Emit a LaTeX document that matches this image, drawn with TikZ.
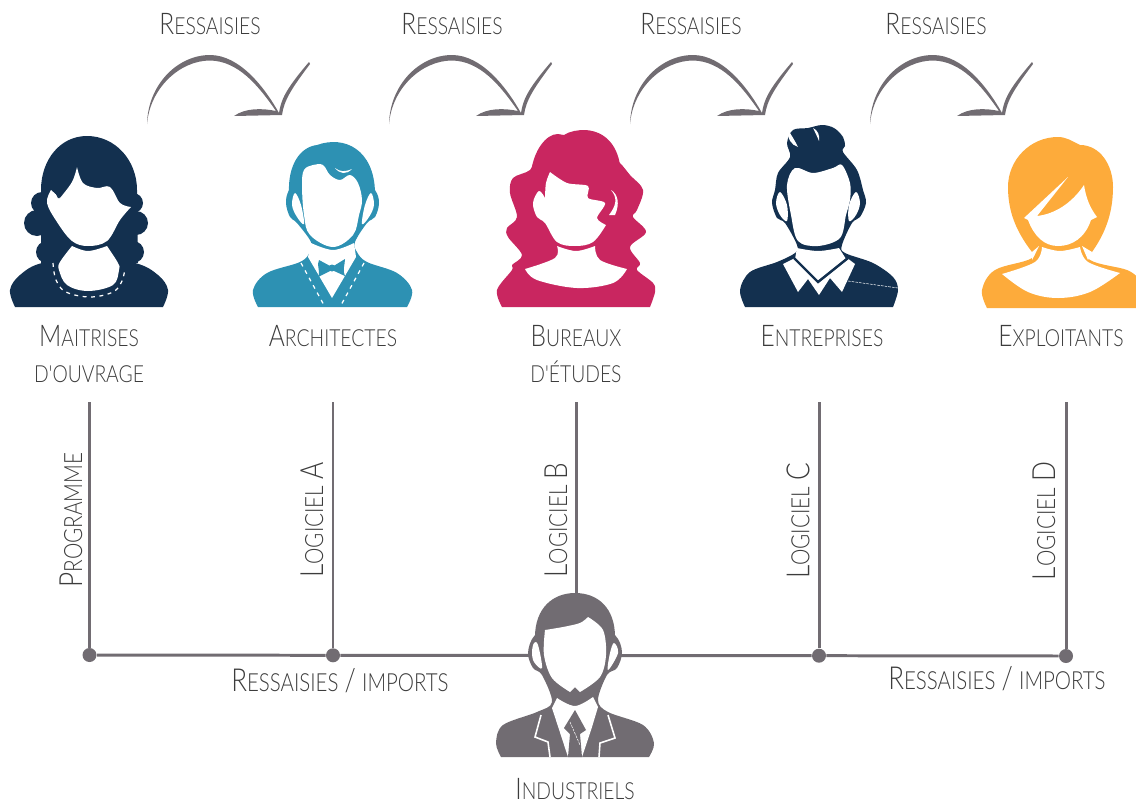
\documentclass[tikz,border=0pt]{standalone}
\usepackage{fontspec}
\newfontfamily\thinfont[FakeStretch=0.82]{Lato Light}
\newcommand{\capsz}{\fontsize{17}{20}\thinfont}
\newcommand{\lowsz}{\fontsize{13.4}{20}\thinfont}
\newcommand{\scw}[2]{{\capsz #1}{\lowsz\MakeUppercase{#2}}}
\definecolor{navy}{HTML}{13304F}
\definecolor{teal}{HTML}{2D91B3}
\definecolor{pink}{HTML}{C92660}
\definecolor{amber}{HTML}{FDAB3B}
\definecolor{slate}{HTML}{716C72}
\definecolor{ink}{HTML}{3C3C3C}
\tikzset{
  lbl/.style={text=ink,inner sep=0pt,align=center,font=\linespread{1.2}\selectfont},
  vlbl/.style={lbl,rotate=90,scale=1.07},
  wire/.style={slate,line width=1.7pt},
  hub/.style={circle,fill=slate,inner sep=0pt,minimum size=0.28cm},
  stitch/.style={white,line width=0.7pt,dash pattern=on 2.2pt off 2.6pt},
  hair/.style={white,line width=0.3pt,dash pattern=on 1.5pt off 0.6pt},
}
\begin{document}
\begin{tikzpicture}[x=0.02cm,y=-0.02cm]
  \useasboundingbox (0,0) rectangle (1136,805);
  % swooshes
  \foreach \n/\dx in {a/0,b/242,c/483,d/723}{
    \begin{scope}[shift={(\dx,0)}]
      \coordinate (from\n) at (147,124);
      \coordinate (tip\n) at (279,113);
      \fill[slate] (from\n) .. controls (148,84) and (178,55) .. (210,55) .. controls (240,55) and (265,88) .. (tip\n)
        .. controls (281,100) and (285,90) .. (309,62) -- (310,64) .. controls (292,88) and (284,100) .. (282,115)
        -- (234,116) .. controls (245,108) and (262,108) .. (276,111)
        .. controls (258,85) and (238,61) .. (210,60.5) .. controls (180,60.5) and (150,88) .. (from\n) -- cycle;
    \end{scope}
  }
  \node[lbl] (ra) at (210,24) {\scw{R}{essaisies}};
  \node[lbl] (rb) at (452,24) {\scw{R}{essaisies}};
  \node[lbl] (rc) at (691,24) {\scw{R}{essaisies}};
  \node[lbl] (rd) at (936,24) {\scw{R}{essaisies}};
  % maitrise d'ouvrage
  \fill[navy] plot[smooth,tension=0.6] coordinates {(15,307) (10,290) (20,275) (42,263) (88,258) (135,263) (158,275) (168,290) (163,307)} -- cycle;
  \fill[navy] (41,263) -- (41,190) .. controls (41,160) and (60,136) .. (87,136) .. controls (115,136) and (137,160) .. (137,190) -- (138,263) -- cycle;
  \foreach \cx/\cy/\r in {47/252/11,37/223/13,42/203/11,133/252/11,136/223/12,133/203/10}{
    \fill[navy] (\cx,\cy) circle (\r);
  }
  \fill[white] plot[smooth,tension=0.6] coordinates {(77,167) (72,182) (60,198)} -- (51,190) -- plot[smooth,tension=0.6] coordinates {(51,190) (47,203) (57,222) (72,241) (88,246) (107,241) (120,220) (131,207)} -- plot[smooth,tension=0.6] coordinates {(131,207) (120,203) (110,187) (97,188) (83,183) (77,167)} -- cycle;
  \fill[navy] (54,190) -- (60,198) -- (58,198) -- cycle;
  \fill[white] plot[smooth,tension=0.6] coordinates {(72,246) (60,262) (59,270) (67,285) (88,291) (113,285) (119,270) (118,263) (107,246)} -- plot[smooth,tension=0.6] coordinates {(107,246) (88,251) (72,246)} -- cycle;
  \draw[stitch] plot[smooth,tension=0.6] coordinates {(53,263) (56,280) (66,292) (90,297) (113,292) (122,281) (125,268)};
  % architecte
  \fill[teal] plot[smooth,tension=0.6] coordinates {(258,307) (253,290) (267,273) (300,262) (310,252) (311,242) (297,223) (290,217) (286,203) (289,190) (300,175) (330,160) (360,175) (375,190) (379,203) (375,217) (367,223) (355,242) (357,252) (367,262) (397,273) (412,290) (407,307)} -- cycle;
  \fill[teal] (289,192) .. controls (288,165) and (300,147) .. (317,145) .. controls (345,135) and (374,150) .. (375,192) -- cycle;
  \fill[white] plot[smooth cycle,tension=0.6] coordinates {(302,185) (304,170) (313,165) (323,165) (330,175) (340,180) (350,175) (358,183) (362,200) (359,215) (353,235) (333,247) (310,235) (304,215)};
  \fill[white] plot[smooth cycle,tension=0.6] coordinates {(295,193) (292,205) (297,217) (304,224) (301,205)};
  \fill[white] plot[smooth cycle,tension=0.6] coordinates {(371,193) (374,205) (369,217) (362,224) (365,205)};
  \fill[white] (335,168) .. controls (340,172) and (345,172) .. (352,169) .. controls (346,175) and (340,174) .. cycle;
  \fill[white] plot[smooth,tension=0.6] coordinates {(311,243) (333,250) (354,243)} -- (356,257) -- (332,298) -- (308,257) -- cycle;
  \fill[teal] (332,267) -- (319,260) .. controls (316,266) and (321,270) .. (318,277) -- (332,270) -- (345,276) .. controls (342,270) and (345,265) .. (345,259) -- cycle;
  \fill[teal] (332,268) circle (3.5);
  \draw[stitch] (301,263) -- (325,307);
  \draw[stitch] (364,263) -- (340,307);
  % bureau d'etudes
  \fill[pink] plot[smooth,tension=0.55] coordinates {(502,307) (497,290) (512,270) (512,265) (522,255) (508,237) (507,228) (517,217) (510,193) (513,178) (530,170) (538,155) (560,142) (585,140) (605,150) (620,163) (630,175) (643,190) (637,210) (633,217) (646,232) (630,247) (640,263) (637,270) (653,283) (655,292) (650,307)} -- cycle;
  \fill[pink] (531,172) .. controls (534,150) and (546,134) .. (558,134) -- (564,135) .. controls (570,131) and (578,130) .. (585,130) .. controls (605,131) and (617,145) .. (620,165) -- cycle;
  \fill[white] plot[smooth,tension=0.5] coordinates {(550,172) (567,183) (588,186) (588,198) (605,203) (597,218) (606,225)} -- plot[smooth,tension=0.6] coordinates {(606,225) (593,242) (575,246) (557,242) (545,223) (537,217) (533,203) (539,191) (545,198)} -- plot[smooth,tension=0.6] coordinates {(545,198) (546,183) (550,172)} -- cycle;
  \fill[white] plot[smooth,tension=0.6] coordinates {(557,246) (555,258) (525,269)} -- plot[smooth,tension=0.6] coordinates {(525,269) (537,280) (577,288) (613,283) (627,269)} -- plot[smooth,tension=0.6] coordinates {(627,269) (600,260) (595,246)} -- plot[smooth,tension=0.6] coordinates {(595,246) (576,251) (557,246)} -- cycle;
  \fill[white] (611,190) .. controls (618,194) and (620,204) .. (615,215) -- (609,215) .. controls (616,206) and (618,198) .. cycle;
  % entreprise
  \fill[navy] plot[smooth,tension=0.55] coordinates {(745,307) (740,290) (750,272) (777,262) (795,253) (797,245) (785,223) (777,218) (772,203) (775,190) (778,173) (790,157) (787,143) (793,130) (808,128) (822,125) (834,128) (843,137) (845,146) (843,152) (857,170) (863,190) (866,203) (860,217) (852,223) (842,245) (845,253) (873,263) (893,277) (898,290) (893,307)} -- cycle;
  \fill[white] plot[smooth cycle,tension=0.55] coordinates {(795,168) (813,173) (833,168) (842,165) (850,183) (850,200) (846,215) (840,238) (818,246) (798,241) (791,215) (787,185)};
  \fill[white] plot[smooth cycle,tension=0.6] coordinates {(780,192) (776,203) (780,215) (787,221) (787,205)};
  \fill[white] plot[smooth cycle,tension=0.6] coordinates {(856,192) (860,203) (856,215) (849,221) (849,205)};
  \fill[white] (788,130) .. controls (787,138) and (791,145) .. (798,147) .. controls (795,141) and (792,136) .. cycle;
  \fill[white] (813,128) .. controls (818,130) and (820,136) .. (819,141) .. controls (817,136) and (815,132) .. cycle;
  \fill[white] (783,264) -- (795,258) -- (818,283) -- (847,258) -- (855,264) -- (842,292) -- (830,278) -- (819,295) -- (808,279) -- (798,292) -- cycle;
  \fill[white] plot[smooth,tension=0.6] coordinates {(797,248) (818,251) (839,248)} -- (846,259) -- (818,286) -- (795,259) -- cycle;
  \draw[navy,line width=1.4pt] (794,258) -- (818,282) -- (848,258);
  \draw[hair] (848,281) -- (898,288);
  % exploitant
  \begin{scope}
    \clip (0,0) rectangle (1136,308);
    \fill[amber] plot[smooth,tension=0.6] coordinates {(987,308) (982,290) (995,270) (1032,258) (1040,240) (1080,240) (1090,260) (1127,270) (1140,280)} -- (1140,308) -- cycle;
    \fill[amber] (1032,252) .. controls (1015,230) and (1008,210) .. (1008,187) .. controls (1008,160) and (1030,137) .. (1058,137) .. controls (1066,137) and (1072,141) .. (1080,145) .. controls (1100,145) and (1113,165) .. (1113,187) .. controls (1113,215) and (1104,235) .. (1092,252) -- (1060,262) -- cycle;
    \fill[white] (1032,252) -- (1039,246) -- (1032,260) -- cycle;
    \fill[white] (1092,252) -- (1082,246) -- (1088,260) -- cycle;
    \fill[white] (1024,218) -- (1068,177) -- (1037,216) .. controls (1055,214) and (1072,203) .. (1084,185) .. controls (1086,198) and (1090,208) .. (1097,217) -- (1091,220) .. controls (1085,238) and (1072,246) .. (1058,246) .. controls (1044,246) and (1034,236) .. (1028,220) -- cycle;
    \fill[white] plot[smooth,tension=0.6] coordinates {(1042,247) (1035,262) (1002,274)} -- plot[smooth,tension=0.6] coordinates {(1002,274) (1028,292) (1058,298) (1090,292) (1120,273)} -- plot[smooth,tension=0.6] coordinates {(1120,273) (1088,262) (1080,247)} -- plot[smooth,tension=0.6] coordinates {(1080,247) (1060,251) (1042,247)} -- cycle;
  \end{scope}
  % wires
  \node[hub] (pa) at (89.5,655) {};
  \node[hub] (pb) at (333,655.3) {};
  \node[hub] (pd) at (819,655.7) {};
  \node[hub] (pe) at (1066,656) {};
  \coordinate (ta) at (89.5,402);
  \coordinate (tb) at (333,402);
  \coordinate (tc) at (576,402);
  \coordinate (td) at (819,402);
  \coordinate (te) at (1066,402);
  \coordinate (manhead) at (576,600);
  \draw[wire] (ta) -- (pa);
  \draw[wire] (tb) -- (pb);
  \draw[wire] (tc) -- (manhead);
  \draw[wire] (td) -- (pd);
  \draw[wire] (te) -- (pe);
  \draw[wire] (pa) -- (pb) -- (pd) -- (pe);
  % industriel
  \fill[slate] plot[smooth,tension=0.55] coordinates {(501,757) (496,743) (503,725) (537,712) (552,702) (542,675) (533,668) (528,653) (535,635) (560,620) (590,620) (615,635) (622,652) (617,668) (607,675) (598,700) (608,712) (643,725) (654,743) (649,757)} -- cycle;
  \fill[slate] (535,637) .. controls (535,608) and (553,593) .. (575,593) .. controls (598,593) and (615,608) .. (615,637) -- cycle;
  \fill[white] plot[smooth,tension=0.55] coordinates {(588,617) (603,630) (606,655) (600,677) (580,692)} -- (575,687) -- (570,692) -- plot[smooth,tension=0.55] coordinates {(570,692) (552,678) (544,655) (545,630)} -- plot[smooth,tension=0.5] coordinates {(545,630) (563,627) (580,623) (588,617)} -- cycle;
  \fill[white] plot[smooth cycle,tension=0.6] coordinates {(534,643) (538,645) (542,668) (534,662) (532,652)};
  \fill[white] plot[smooth cycle,tension=0.6] coordinates {(614,643) (618,653) (608,670) (610,653)};
  \fill[white] plot[smooth,tension=0.6] coordinates {(557,698) (575,706) (593,697)} -- (598,707) -- (592,727) -- (582,757) -- (568,757) -- (552,708) -- cycle;
  \fill[slate] (575,710) -- (586,730) -- (580,734) -- (582,757) -- (568,757) -- (570,734) -- (564,728) -- cycle;
  \draw[white,line width=0.9pt] (541,715) -- (535,737) -- (548,742) -- (550,757);
  \draw[white,line width=0.9pt] (608,715) -- (615,738) -- (600,743) -- (599,757);
  \draw[hair] (570,722) -- (580,745);
  % role labels
  \node[lbl] (moa) at (89,354) {\scw{M}{aitrises}\\[6.4pt]\scw{}{d'ouvrage}};
  \node[lbl] (arch) at (333,336) {\scw{A}{rchitectes}};
  \node[lbl] (bet) at (576,354) {\scw{B}{ureaux}\\[6.4pt]\scw{}{d'études}};
  \node[lbl] (ent) at (822,336) {\scw{E}{ntreprises}};
  \node[lbl] (expl) at (1061,336) {\scw{E}{xploitants}};
  \node[lbl] (ind) at (575,789) {\scw{I}{ndustriels}};
  % software labels
  \node[vlbl] (prog) at (71,520) {\scw{P}{rogramme}};
  \node[vlbl] (loga) at (312,520) {\scw{L}{ogiciel} \scw{A}{}};
  \node[vlbl] (logb) at (556,520) {\scw{L}{ogiciel} \scw{B}{}};
  \node[vlbl] (logc) at (798,521) {\scw{L}{ogiciel} \scw{C}{}};
  \node[vlbl] (logd) at (1044,521) {\scw{L}{ogiciel} \scw{D}{}};
  \node[lbl,scale=1.06] (impa) at (340,681) {\scw{R}{essaisies} {\capsz /} \scw{}{imports}};
  \node[lbl,scale=1.06] (impb) at (997,679) {\scw{R}{essaisies} {\capsz /} \scw{}{imports}};
\end{tikzpicture}
\end{document}
